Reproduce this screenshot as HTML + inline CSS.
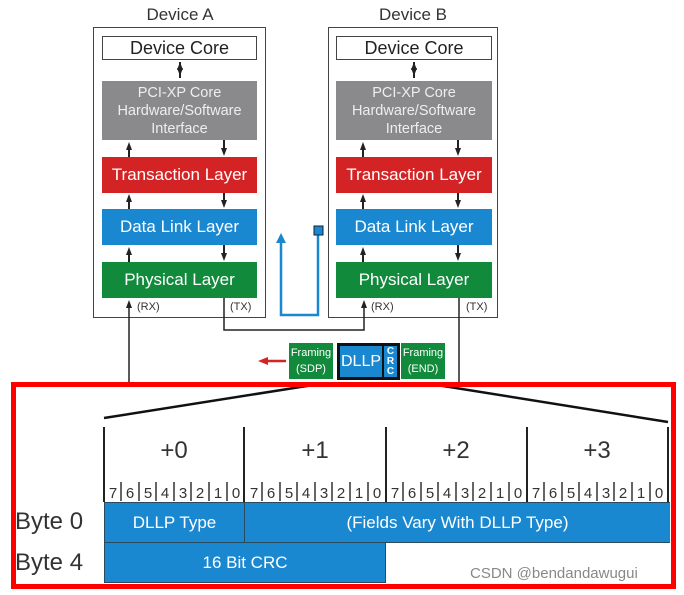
<!DOCTYPE html>
<html><head><meta charset="utf-8"><style>
body{margin:0;width:684px;height:595px;background:#fff;position:relative;overflow:hidden;font-family:"Liberation Sans",sans-serif}
.a{position:absolute;box-sizing:border-box}
.l{color:#fff;text-align:center;display:flex;align-items:center;justify-content:center;font-size:17px}
</style></head><body>
<div class="a" style="left:94px;top:5px;width:172px;text-align:center;font-size:17px;color:#333">Device A</div>
<div class="a" style="left:328px;top:5px;width:170px;text-align:center;font-size:17px;color:#333">Device B</div>

<div class="a" style="left:93px;top:27px;width:173px;height:291px;border:1.5px solid #444"></div>
<div class="a" style="left:328px;top:27px;width:170px;height:291px;border:1.5px solid #444"></div>

<div class="a l" style="left:102px;top:36px;width:155px;height:24px;border:1.5px solid #444;color:#222;font-size:18px">Device Core</div>
<div class="a l" style="left:102px;top:81px;width:155px;height:59px;background:#8a8a8c;font-size:14.5px;line-height:18px;flex-direction:column;color:#eee">PCI-XP Core<br>Hardware/Software<br>Interface</div>
<div class="a l" style="left:102px;top:157px;width:155px;height:36px;background:#d42325">Transaction Layer</div>
<div class="a l" style="left:102px;top:209px;width:155px;height:36px;background:#1a88d0">Data Link Layer</div>
<div class="a l" style="left:102px;top:262px;width:155px;height:36px;background:#128a3c">Physical Layer</div>

<div class="a l" style="left:336px;top:36px;width:156px;height:24px;border:1.5px solid #444;color:#222;font-size:18px">Device Core</div>
<div class="a l" style="left:336px;top:81px;width:156px;height:59px;background:#8a8a8c;font-size:14.5px;line-height:18px;flex-direction:column;color:#eee">PCI-XP Core<br>Hardware/Software<br>Interface</div>
<div class="a l" style="left:336px;top:157px;width:156px;height:36px;background:#d42325">Transaction Layer</div>
<div class="a l" style="left:336px;top:209px;width:156px;height:36px;background:#1a88d0">Data Link Layer</div>
<div class="a l" style="left:336px;top:262px;width:156px;height:36px;background:#128a3c">Physical Layer</div>

<div class="a" style="left:137px;top:301px;font-size:11px;color:#333">(RX)</div>
<div class="a" style="left:230px;top:301px;font-size:11px;color:#333">(TX)</div>
<div class="a" style="left:371px;top:301px;font-size:11px;color:#333">(RX)</div>
<div class="a" style="left:466px;top:301px;font-size:11px;color:#333">(TX)</div>

<svg class="a" style="left:0;top:0" width="684" height="595">
<defs><marker id="ar" markerUnits="userSpaceOnUse" markerWidth="8" markerHeight="8" refX="4" refY="4" orient="auto"><path d="M0,1L8,4L0,7z" fill="#222"/></marker>
<marker id="rb" markerUnits="userSpaceOnUse" markerWidth="10" markerHeight="10" refX="5" refY="5" orient="auto"><path d="M0,0L10,5L0,10z" fill="#1a88d0"/></marker>
<marker id="rr" markerUnits="userSpaceOnUse" markerWidth="10" markerHeight="10" refX="5" refY="5" orient="auto"><path d="M0,1L10,5L0,9z" fill="#d42325"/></marker></defs>
<g stroke="#222" stroke-width="2" fill="none">
<line x1="180" y1="62" x2="180" y2="72" marker-end="url(#ar)"/><line x1="180" y1="78" x2="180" y2="66" marker-end="url(#ar)"/>
<line x1="414" y1="62" x2="414" y2="72" marker-end="url(#ar)"/><line x1="414" y1="78" x2="414" y2="66" marker-end="url(#ar)"/>
<g id="g">
<line x1="129" y1="157" x2="129" y2="146" marker-end="url(#ar)"/><line x1="224" y1="140" x2="224" y2="152" marker-end="url(#ar)"/>
<line x1="129" y1="209" x2="129" y2="198" marker-end="url(#ar)"/><line x1="224" y1="193" x2="224" y2="204" marker-end="url(#ar)"/>
<line x1="129" y1="262" x2="129" y2="251" marker-end="url(#ar)"/><line x1="224" y1="245" x2="224" y2="257" marker-end="url(#ar)"/>
</g>
<use href="#g" x="234"/>
<line x1="129" y1="383" x2="129" y2="304" marker-end="url(#ar)" stroke-width="1.5"/>
<polyline points="224,298 224,330 364,330 364,304" stroke-width="1.5" marker-end="url(#ar)"/>
<line x1="459" y1="298" x2="459" y2="383" stroke-width="1.5"/>
</g>
<polyline points="318,235 318,315 281,315 281,238" stroke="#1a88d0" stroke-width="2.5" fill="none" marker-end="url(#rb)"/>
<rect x="314" y="226" width="9" height="9" fill="#1a88d0" stroke="#123" stroke-width="1"/>
<line x1="286" y1="361" x2="263" y2="361" stroke="#d42325" stroke-width="2.5" marker-end="url(#rr)"/>
<g stroke="#111" stroke-width="2.5"><line x1="104" y1="418" x2="313" y2="385"/><line x1="437" y1="385" x2="668" y2="422"/></g>
</svg>

<div class="a l" style="left:289px;top:343px;width:44px;height:36px;background:#128a3c;font-size:11px;line-height:16px;flex-direction:column">Framing<br>(SDP)</div>
<div class="a" style="left:337px;top:343px;width:63px;height:37px;background:#111"></div>
<div class="a l" style="left:340px;top:346px;width:42px;height:31px;background:#1a88d0;font-size:16px">DLLP</div>
<div class="a l" style="left:384px;top:346px;width:13px;height:31px;background:#1a88d0;font-size:10px;line-height:10px;flex-direction:column;font-weight:bold">C<br>R<br>C</div>
<div class="a l" style="left:401px;top:343px;width:44px;height:36px;background:#128a3c;font-size:11px;line-height:16px;flex-direction:column">Framing<br>(END)</div>

<div class="a" style="left:11px;top:382px;width:665px;height:207px;border:5px solid #f00"></div>

<svg class="a" style="left:0;top:0" width="684" height="595">
<g stroke="#222" stroke-width="2"><line x1="104" y1="427" x2="104" y2="502"/><line x1="244" y1="427" x2="244" y2="502"/><line x1="386" y1="427" x2="386" y2="502"/><line x1="527" y1="427" x2="527" y2="502"/><line x1="668" y1="427" x2="668" y2="502"/></g>
<g font-size="24" fill="#333" text-anchor="middle" font-family="Liberation Sans"><text x="174" y="458">+0</text><text x="315" y="458">+1</text><text x="456" y="458">+2</text><text x="597" y="458">+3</text></g>
<g id="bits" font-size="15" fill="#333" text-anchor="middle" font-family="Liberation Sans">
<text x="113" y="498">7</text><text x="130" y="498">6</text><text x="148" y="498">5</text><text x="165" y="498">4</text><text x="183" y="498">3</text><text x="200" y="498">2</text><text x="218" y="498">1</text><text x="236" y="498">0</text>
<g stroke="#333" stroke-width="1.5"><line x1="121" y1="482" x2="121" y2="501"/><line x1="139" y1="482" x2="139" y2="501"/><line x1="156" y1="482" x2="156" y2="501"/><line x1="174" y1="482" x2="174" y2="501"/><line x1="191" y1="482" x2="191" y2="501"/><line x1="209" y1="482" x2="209" y2="501"/><line x1="227" y1="482" x2="227" y2="501"/></g>
</g>
<use href="#bits" x="141"/><use href="#bits" x="282"/><use href="#bits" x="423"/>
</svg>

<div class="a l" style="left:104px;top:502px;width:141px;height:41px;background:#1a88d0;border:1px solid #2a4a60;font-size:17px">DLLP Type</div>
<div class="a l" style="left:244px;top:502px;width:426px;height:41px;background:#1a88d0;border:1px solid #2a4a60;border-right:none;font-size:17px">(Fields Vary With DLLP Type)</div>
<div class="a l" style="left:104px;top:542px;width:282px;height:41px;background:#1a88d0;border:1px solid #2a4a60;font-size:17px">16 Bit CRC</div>
<div class="a" style="left:15px;top:508px;font-size:24px;color:#333">Byte 0</div>
<div class="a" style="left:15px;top:549px;font-size:24px;color:#333">Byte 4</div>
<div class="a" style="left:470px;top:565px;font-size:15px;color:#888">CSDN @bendandawugui</div>
</body></html>
